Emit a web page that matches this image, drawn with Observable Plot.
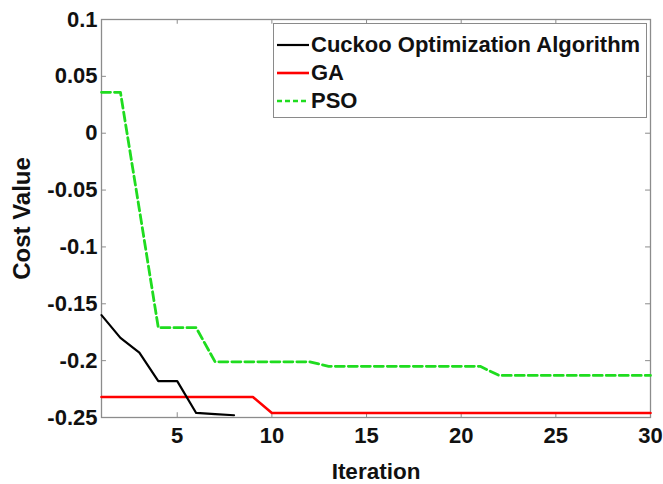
<!DOCTYPE html>
<html>
<head>
<meta charset="utf-8">
<script src="https://cdn.jsdelivr.net/npm/d3@7"></script>
<script src="https://cdn.jsdelivr.net/npm/@observablehq/plot@0.6"></script>
<style>
  body { margin: 0; background: #fff; }
  #chart { position: relative; width: 663px; height: 484px; }
  .legend {
    position: absolute; left: 273px; top: 23px; width: 374px; height: 95px;
    box-sizing: border-box; border: 1.5px solid #8a8a8a; background: #fff;
    font: bold 22px "Liberation Sans", Arial, sans-serif; color: #111;
  }
  .legend .row { position: absolute; left: 3px; height: 28px; display: flex; align-items: center; white-space: nowrap; }
  .legend svg { width: 32px; height: 10px; margin-right: 2px; }
</style>
</head>
<body>
<div id="chart"></div>
<script>
// Best cost per iteration for the three optimisers
const cuckooIter = [1, 2, 3, 4, 5, 6, 7, 8];
const cuckooCost = [-0.160, -0.180, -0.193, -0.218, -0.218, -0.246, -0.247, -0.248];

const gaIter = [1, 2, 3, 4, 5, 6, 7, 8, 9, 10, 11, 12, 13, 14, 15, 16, 17, 18, 19, 20, 21, 22, 23, 24, 25, 26, 27, 28, 29, 30];
const gaCost = [-0.232, -0.232, -0.232, -0.232, -0.232, -0.232, -0.232, -0.232, -0.232,
                -0.246, -0.246, -0.246, -0.246, -0.246, -0.246, -0.246, -0.246, -0.246, -0.246, -0.246,
                -0.246, -0.246, -0.246, -0.246, -0.246, -0.246, -0.246, -0.246, -0.246, -0.246];

const psoIter = [1, 2, 3, 4, 5, 6, 7, 8, 9, 10, 11, 12, 13, 14, 15, 16, 17, 18, 19, 20, 21, 22, 23, 24, 25, 26, 27, 28, 29, 30];
const psoCost = [0.036, 0.036, -0.067, -0.171, -0.171, -0.171, -0.201, -0.201, -0.201, -0.201,
                 -0.201, -0.201, -0.205, -0.205, -0.205, -0.205, -0.205, -0.205, -0.205, -0.205,
                 -0.205, -0.213, -0.213, -0.213, -0.213, -0.213, -0.213, -0.213, -0.213, -0.213];

const seriesNames = ["Cuckoo Optimization Algorithm", "GA", "PSO"];
const seriesColors = ["#000000", "#ff0000", "#1fdc1f"];

const xTicks = [5, 10, 15, 20, 25, 30];
const xTickLabels = ["5", "10", "15", "20", "25", "30"];
const yTicks = [0.1, 0.05, 0, -0.05, -0.1, -0.15, -0.2, -0.25];
const yTickLabels = ["0.1", "0.05", "0", "-0.05", "-0.1", "-0.15", "-0.2", "-0.25"];

const xDomain = [1, 30];
const yDomain = [-0.25, 0.1];

const toRows = (xs, ys) => xs.map((x, i) => ({x, y: ys[i]}));
const cuckoo = toRows(cuckooIter, cuckooCost);
const ga = toRows(gaIter, gaCost);
const pso = toRows(psoIter, psoCost);

// inward tick length, in data units
const tickX = (xDomain[1] - xDomain[0]) * 0.009;
const tickY = (yDomain[1] - yDomain[0]) * 0.012;
const frameColor = "#8c8c8c";

const chart = Plot.plot({
  width: 663,
  height: 484,
  marginLeft: 101,
  marginRight: 13,
  marginTop: 19,
  marginBottom: 67,
  x: {domain: xDomain},
  y: {domain: yDomain},
  style: {fontFamily: "'Liberation Sans', Arial, sans-serif", fontSize: "22px", fontWeight: "bold", color: "#111", background: "#fff"},
  marks: [
    Plot.frame({stroke: frameColor, strokeWidth: 1.3}),
    // inward tick marks on all four sides
    Plot.ruleX(xTicks, {x: d => d, y1: yDomain[0], y2: yDomain[0] + tickY, stroke: frameColor}),
    Plot.ruleX(xTicks, {x: d => d, y1: yDomain[1], y2: yDomain[1] - tickY, stroke: frameColor}),
    Plot.ruleY(yTicks, {y: d => d, x1: xDomain[0], x2: xDomain[0] + tickX, stroke: frameColor}),
    Plot.ruleY(yTicks, {y: d => d, x1: xDomain[1], x2: xDomain[1] - tickX, stroke: frameColor}),
    Plot.axisX(xTicks, {tickSize: 0, tickPadding: 10, label: null, tickFormat: d => xTickLabels[xTicks.indexOf(d)]}),
    Plot.axisY(yTicks, {tickSize: 0, tickPadding: 4, label: null, tickFormat: d => yTickLabels[yTicks.indexOf(d)]}),
    Plot.line(pso, {x: "x", y: "y", stroke: seriesColors[2], strokeWidth: 2.8, strokeDasharray: "9,4"}),
    Plot.line(ga, {x: "x", y: "y", stroke: seriesColors[1], strokeWidth: 2.6}),
    Plot.line(cuckoo, {x: "x", y: "y", stroke: seriesColors[0], strokeWidth: 2.2}),
    Plot.text(["Iteration"], {text: d => d, frameAnchor: "bottom", dy: 54, lineAnchor: "middle", textAnchor: "middle", fontSize: 22.5, fontWeight: "bold", fill: "#111"}),
    Plot.text(["Cost Value"], {text: d => d, frameAnchor: "left", dx: -79, rotate: -90, lineAnchor: "middle", textAnchor: "middle", fontSize: 24, fontWeight: "bold", fill: "#111"})
  ]
});

const root = document.getElementById("chart");
root.appendChild(chart);

// legend box in the upper right
const legend = document.createElement("div");
legend.className = "legend";
const dashes = [null, null, "5,3"];
const widths = [2.2, 2.6, 2.4];
seriesNames.forEach((name, i) => {
  const row = document.createElement("div");
  row.className = "row";
  row.style.top = (7 + i * 28) + "px";
  row.innerHTML = `<svg viewBox="0 0 32 10"><line x1="0" y1="5" x2="32" y2="5" stroke="${seriesColors[i]}" stroke-width="${widths[i]}"${dashes[i] ? ` stroke-dasharray="${dashes[i]}"` : ""}/></svg><span>${name}</span>`;
  legend.appendChild(row);
});
root.appendChild(legend);
</script>
</body>
</html>
